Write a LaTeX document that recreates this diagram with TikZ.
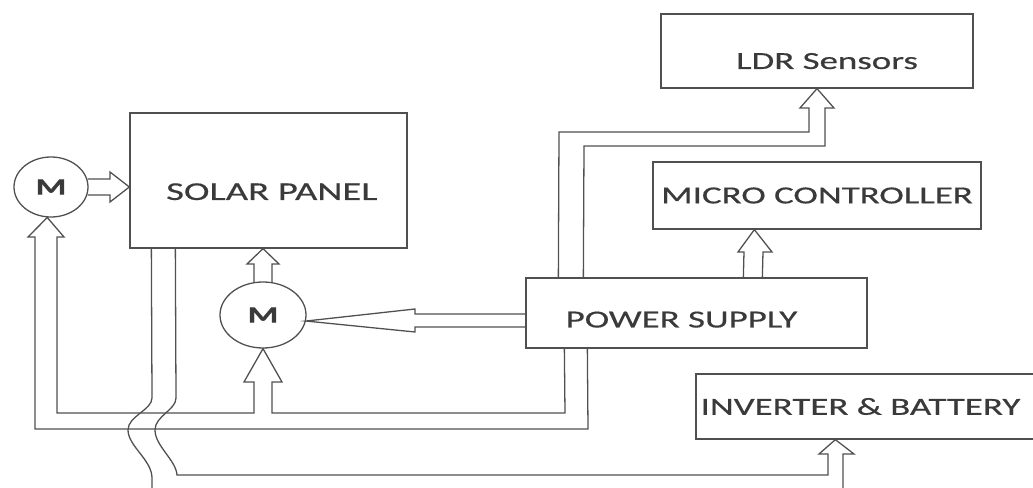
\documentclass[tikz,border=0pt]{standalone}
\usepackage{fontspec}
\setmainfont{Carlito}[FakeStretch=1.5, FakeBold=0.5]
\usetikzlibrary{calc, shapes.geometric}
\definecolor{bdInk}{HTML}{505050}
\definecolor{bdText}{HTML}{3A3A3A}
\tikzset{
  block/.style={
    draw=bdInk, line width=1.1pt, rectangle, inner sep=0pt,
    font=\fontsize{21}{25}\selectfont, text=bdText
  },
  motor/.style={
    draw=bdInk, line width=1.1pt, ellipse, inner sep=0pt,
    font=\fontsize{20}{24}\selectfont\bfseries, text=bdText
  },
  wire/.style={draw=bdInk, line width=1.1pt, line join=miter},
}

\begin{document}
\begin{tikzpicture}[x=0.03cm, y=-0.03cm]
  \useasboundingbox (0,0) rectangle (1033,488);
  \clip (0,0) rectangle (1033,488);

  % blocks
  \node[block, minimum width=8.31cm, minimum height=4.05cm, font=\fontsize{22}{26}\selectfont,
        text height=1.17cm, text depth=0pt] (sp) at (268.5,180.5) {\hspace*{0.2cm}SOLAR PANEL};
  \node[block, minimum width=9.36cm, minimum height=2.22cm,
        text height=1.08cm, text depth=0pt] (ldr) at (817,51) {\hspace*{0.6cm}LDR Sensors};
  \node[block, minimum width=9.84cm, minimum height=2.01cm] (mc) at (817,195.5) {MICRO CONTROLLER};
  \node[block, minimum width=10.23cm, minimum height=2.1cm,
        text height=0.87cm, text depth=0pt] (ps) at (696.5,313) {POWER SUPPLY\hspace*{0.9cm}};
  \node[block, minimum width=10.47cm, minimum height=1.95cm] (inv) at (870.5,406.5) {INVERTER \& BATTERY\hspace*{0.6cm}};

  % motors
  \node[motor, minimum width=2.22cm, minimum height=1.8cm] (m1) at (51,187) {M};
  \node[motor, minimum width=2.58cm, minimum height=1.98cm] (m2) at (263,315) {M};

  % motor to panel
  \draw[wire] ($(m1.east)+(-1,-8)$) -- (110,179) -- (110,172) -- (sp.west |- m1.east)
    -- (110,202) -- (110,195) -- ($(m1.east)+(-1,8)$);
  % lower motor to panel
  \draw[wire] ($(m2.north)+(-9,1)$) -- (254,264) -- (247,264) -- (m2.north |- sp.south)
    -- (279,264) -- (272,264) -- ($(m2.north)+(9,1)$);
  % supply loop feeding both motors
  \draw[wire] ($(ps.south west)+(62,0)$) -- (588,429) -- (35,429) -- (35,237) -- (28,237)
    -- (m1.263) -- (64,237) -- (57,237) -- (57,413) -- (254,413) -- (254,382) -- (244,382)
    -- (m2.south) -- (282,382) -- (272,382) -- (272,413) -- (565,413) -- ($(ps.south west)+(39,0)$);
  % supply to lower motor
  \draw[wire] ($(ps.west)+(0,1)$) -- (415,314) -- (415,309) -- (m2.-8)
    -- (415,332) -- (415,327) -- ($(ps.west)+(0,14)$);
  % supply to sensors
  \draw[wire] ($(ps.north west)+(33,0)$) -- (559,132) -- (809,132) -- (809,108) -- (800,108)
    -- (ldr.south) -- (834,108) -- (825,108) -- (825,146) -- (584,146) -- ($(ps.north west)+(58,0)$);
  % supply to controller
  \draw[wire] ($(ps.north west)+(218,0)$) -- (744,252) -- (738,252) -- ($(mc.south west)+(102,0)$)
    -- (772,252) -- (763,252) -- ($(ps.north west)+(237,0)$);
  % panel output to inverter
  \draw[wire] ($(sp.south west)+(46,0)$) -- (176,398) .. controls (176,410) and (155,416) .. (155,430)
    .. controls (155,446) and (176,460) .. (177,475) -- (828,475) -- (828,454) -- (819,454)
    -- ($(inv.south west)+(140,0)$) -- (854,454) -- (843,454) -- (843,500);
  \draw[wire] ($(sp.south west)+(22,0)$) -- (152,398) .. controls (152,410) and (128,416) .. (128,430)
    .. controls (128,446) and (152,460) .. (152,478) -- (152,500);
\end{tikzpicture}
\end{document}
